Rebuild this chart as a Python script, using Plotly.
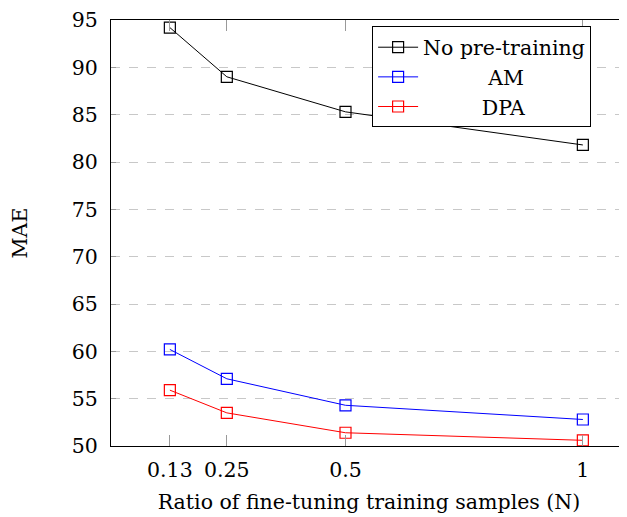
import plotly.graph_objects as go

ratios = [0.13, 0.25, 0.5, 1]
no_pretrain = [94.2, 89.0, 85.3, 81.8]
am = [60.2, 57.1, 54.3, 52.8]
dpa = [55.9, 53.5, 51.4, 50.6]
x_ticks = [0.13, 0.25, 0.5, 1]
x_tick_labels = ["0.13", "0.25", "0.5", "1"]
y_ticks = [50, 55, 60, 65, 70, 75, 80, 85, 90, 95]

FONT = "DejaVu Serif, serif"
TF = dict(family=FONT, size=20.5, color="black")
NB = "\u00a0"
fig = go.Figure()
series = [
    ("No pre-training", no_pretrain, "black"),
    (NB * 10 + "AM", am, "blue"),
    (NB * 9 + "DPA", dpa, "red"),
]
for name, vals, col in series:
    fig.add_trace(go.Scatter(
        x=ratios, y=vals, name=name, mode="lines+markers",
        line=dict(color=col, width=1),
        marker=dict(symbol="square-open", size=11, color=col, line=dict(width=1.2, color=col)),
    ))

# page body has an 8px margin, so the figure is sized/offset accordingly
fig.update_layout(
    width=619, height=509,
    margin=dict(l=103, r=0, t=7, b=71),
    paper_bgcolor="white", plot_bgcolor="white",
    font=TF,
    legend=dict(
        x=0.506, y=0.985, xanchor="left", yanchor="top",
        bgcolor="white", bordercolor="black", borderwidth=1,
        font=TF, itemwidth=40,
        tracegroupgap=0,
    ),
    xaxis=dict(
        range=[0.006, 1.093], tickvals=x_ticks, ticktext=x_tick_labels,
        tickfont=TF,
        showgrid=False, zeroline=False,
        showline=True, linecolor="black", linewidth=1, mirror="ticks",
        ticks="inside", ticklen=11, tickcolor="#999999",
        ticklabelstandoff=5,
        title=dict(text="Ratio of fine-tuning training samples (N)", standoff=14, font=TF),
    ),
    yaxis=dict(
        range=[50, 95], tickvals=y_ticks, tickfont=TF,
        ticklabeloverflow="allow",
        showgrid=True, gridcolor="#c8c8c8", griddash="dash", gridwidth=1,
        zeroline=False,
        showline=True, linecolor="black", linewidth=1, mirror=False,
        ticks="inside", ticklen=5, tickcolor="#999999",
        ticklabelstandoff=8,
        title=dict(text="MAE", standoff=38, font=TF),
    ),
)
fig.write_html("out.html")
